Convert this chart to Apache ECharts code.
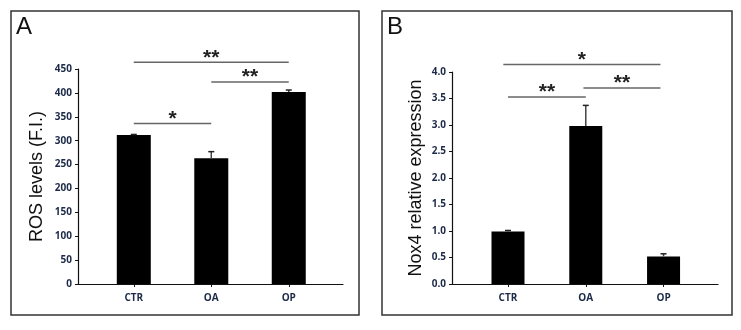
<!DOCTYPE html>
<html>
<head>
<meta charset="utf-8">
<script src="https://cdn.jsdelivr.net/npm/echarts@6/dist/echarts.min.js"></script>
<style>
  html, body { margin: 0; padding: 0; background: #fff; }
  #chart { width: 741px; height: 330px; }
</style>
</head>
<body>
<div id="chart"></div>
<script>
const categories = ['CTR', 'OA', 'OP'];

// panel A: ROS levels
const rosValues = [312, 263, 402];
const rosErrors = [1, 14, 4];
const rosTicks = [0, 50, 100, 150, 200, 250, 300, 350, 400, 450];
// [from, to, height, label]
const rosSig = [[0, 2, 464, '**'], [1, 2, 423, '**'], [0, 1, 336, '*']];

// panel B: Nox4 relative expression
const noxValues = [0.99, 2.98, 0.52];
const noxErrors = [0.02, 0.39, 0.05];
const noxTicks = ['0.0', '0.5', '1.0', '1.5', '2.0', '2.5', '3.0', '3.5', '4.0'];
const noxSig = [[-0.06, 1.96, 4.14, '*'], [0, 1, 3.53, '**'], [0.97, 1.96, 3.70, '**']];

const tickColor = '#1c2a48';
const labelFont = '"Liberation Sans Narrow", "Open Sans", sans-serif';

function xAxisFor(gridIndex) {
  return {
    type: 'value',
    gridIndex: gridIndex,
    min: -0.72,
    max: 2.7,
    splitLine: { show: false },
    axisLine: { show: true, onZero: false, lineStyle: { color: '#111', width: 1.2 } },
    axisTick: { show: true, customValues: [0, 1, 2], length: 3, lineStyle: { color: '#111' } },
    axisLabel: {
      customValues: [0, 1, 2],
      formatter: v => categories[Math.round(v)],
      color: tickColor, fontWeight: 'bold', fontSize: 10, fontFamily: labelFont, margin: 9
    }
  };
}

function yAxisFor(gridIndex, max, interval, name, ticks, gap) {
  return {
    type: 'value',
    gridIndex: gridIndex,
    min: 0,
    max: max,
    interval: interval,
    name: name,
    nameLocation: 'middle',
    nameRotate: 90,
    nameGap: gap,
    nameTextStyle: { fontFamily: 'Liberation Sans, Arial, sans-serif', fontSize: 18, color: '#111' },
    splitLine: { show: false },
    axisLine: { show: true, onZero: false, lineStyle: { color: '#111', width: 1.2 } },
    axisTick: { show: true, length: 3, lineStyle: { color: '#111' } },
    axisLabel: {
      formatter: (v) => ticks[Math.round(v / interval)],
      color: tickColor, fontWeight: 'bold', fontSize: 10, fontFamily: labelFont, margin: 6
    }
  };
}

function barSeries(idx, values, width) {
  return {
    type: 'bar',
    xAxisIndex: idx,
    yAxisIndex: idx,
    barWidth: width,
    itemStyle: { color: '#000' },
    data: values.map((v, i) => [i, v]),
    silent: true
  };
}

function errorSeries(idx, values, errors) {
  return {
    type: 'custom',
    xAxisIndex: idx,
    yAxisIndex: idx,
    z: 5,
    silent: true,
    data: values.map((v, i) => [i, v, v + errors[i]]),
    renderItem: (params, api) => {
      const p0 = api.coord([api.value(0), api.value(1)]);
      const p1 = api.coord([api.value(0), api.value(2)]);
      return {
        type: 'group',
        children: [
          { type: 'line', shape: { x1: p0[0], y1: p0[1], x2: p1[0], y2: p1[1] },
            style: { stroke: '#444', lineWidth: 1.5 } },
          { type: 'line', shape: { x1: p1[0] - 3, y1: p1[1], x2: p1[0] + 3, y2: p1[1] },
            style: { stroke: '#222', lineWidth: 1.5 } }
        ]
      };
    }
  };
}

function sigSeries(idx, sig) {
  return {
    type: 'custom',
    xAxisIndex: idx,
    yAxisIndex: idx,
    z: 6,
    silent: true,
    clip: false,
    data: sig.map(s => [s[0], s[1], s[2]]),
    renderItem: (params, api) => {
      const a = api.coord([api.value(0), api.value(2)]);
      const b = api.coord([api.value(1), api.value(2)]);
      return {
        type: 'group',
        children: [
          { type: 'line', shape: { x1: a[0], y1: a[1], x2: b[0], y2: b[1] },
            style: { stroke: '#666', lineWidth: 1.5 } },
          { type: 'text', x: (a[0] + b[0]) / 2, y: a[1] + 6,
            style: { text: sig[params.dataIndex][3], fill: '#222',
              font: 'bold 21px "Liberation Sans", Arial, sans-serif',
              align: 'center', verticalAlign: 'bottom' } }
        ]
      };
    }
  };
}

const chart = echarts.init(document.getElementById('chart'), null, { renderer: 'canvas' });

chart.setOption({
  animation: false,
  backgroundColor: '#fff',
  grid: [
    { left: 78, top: 69, width: 265, height: 215 },
    { left: 452, top: 72, width: 266, height: 212 }
  ],
  xAxis: [xAxisFor(0), xAxisFor(1)],
  yAxis: [
    yAxisFor(0, 450, 50, 'ROS levels (F.I.)', rosTicks, 32),
    yAxisFor(1, 4, 0.5, 'Nox4 relative expression', noxTicks, 27)
  ],
  graphic: [
    { type: 'rect', shape: { x: 11, y: 11, width: 348, height: 304 },
      style: { fill: 'none', stroke: '#333', lineWidth: 1.5 } },
    { type: 'rect', shape: { x: 382, y: 11, width: 350, height: 304 },
      style: { fill: 'none', stroke: '#333', lineWidth: 1.5 } },
    { type: 'text', left: 16, top: 15,
      style: { text: 'A', font: '24px "Liberation Sans", Arial, sans-serif', fill: '#111' } },
    { type: 'text', left: 387, top: 15,
      style: { text: 'B', font: '24px "Liberation Sans", Arial, sans-serif', fill: '#111' } }
  ],
  series: [
    barSeries(0, rosValues, 34),
    errorSeries(0, rosValues, rosErrors),
    sigSeries(0, rosSig),
    barSeries(1, noxValues, 33),
    errorSeries(1, noxValues, noxErrors),
    sigSeries(1, noxSig)
  ]
});
</script>
</body>
</html>
